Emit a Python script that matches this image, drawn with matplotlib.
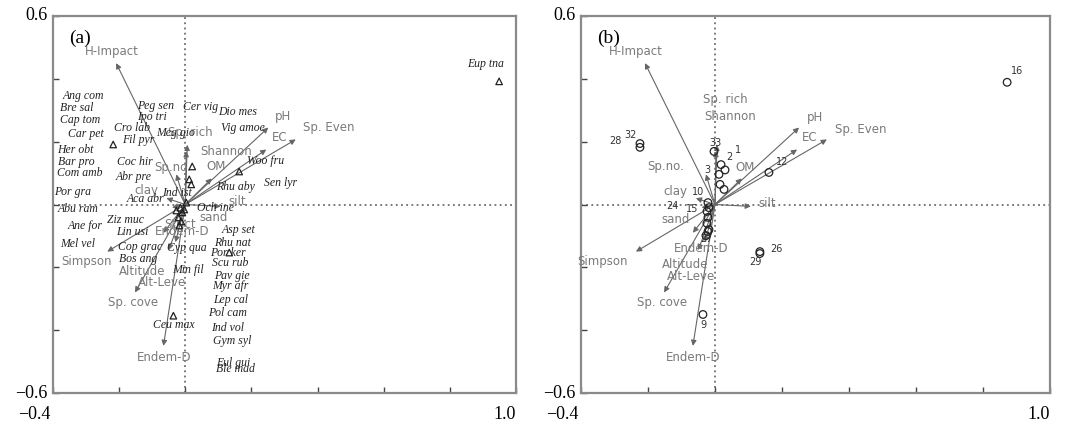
import matplotlib
matplotlib.use("Agg")
import matplotlib.pyplot as plt

# ---------------- data ----------------
env_names = ["H-Impact", "pH", "EC", "Sp. Even", "OM", "silt", "Sp.no.", "Sp. rich",
             "Shannon", "clay", "sand", "Simpson", "Endem-D", "Altitude", "Alt-Leve",
             "Sp. cove", "Endem-D"]
env_x = [-0.209, 0.251, 0.245, 0.334, 0.080, 0.107, -0.027, 0.006,
         0.003, -0.057, -0.040, -0.236, -0.066, -0.050, -0.030, -0.152, -0.066]
env_y = [0.450, 0.245, 0.175, 0.207, 0.083, -0.006, 0.096, 0.190,
         0.170, 0.020, -0.010, -0.150, -0.090, -0.145, -0.120, -0.280, -0.450]

# label positions of the variables, panel (a) and panel (b)
env_lab_a_x = [-0.221, 0.296, 0.284, 0.435, 0.094, 0.157, -0.039, 0.015,
               0.124, -0.118, 0.085, -0.299, -0.009, -0.130, -0.070, -0.157, -0.063]
env_lab_a_y = [0.487, 0.280, 0.213, 0.245, 0.121, 0.010, 0.118, 0.229,
               0.169, 0.045, -0.041, -0.182, -0.086, -0.213, -0.248, -0.312, -0.487]
env_lab_b_x = [-0.236, 0.299, 0.284, 0.436, 0.090, 0.155, -0.146, 0.030,
               0.045, -0.119, -0.119, -0.337, -0.042, -0.090, -0.072, -0.158, -0.066]
env_lab_b_y = [0.487, 0.277, 0.213, 0.239, 0.118, 0.003, 0.121, 0.334,
               0.280, 0.041, -0.048, -0.182, -0.140, -0.191, -0.229, -0.312, -0.487]

species_names = ["Ang com", "Bre sal", "Cap tom", "Car pet", "Her obt", "Bar pro", "Com amb",
                 "Por gra", "Abu ram", "Peg sen", "Ipo tri", "Cro lab", "Fil pyr", "Cer vig",
                 "Dio mes", "Vig amoe", "Meg gio", "Coc hir", "Abr pre", "Aca abr", "Woo fru",
                 "Sen lyr", "Rhu aby", "Och ine", "Ind ist", "Ziz muc", "Ane for", "Lin usi",
                 "Mel vel", "Cop grac", "Cyp qua", "Bos ang", "Min fil", "Asp set", "Rhu nat",
                 "Por ker", "Scu rub", "Pav gie", "Myr afr", "Lep cal", "Pol cam", "Ceu max",
                 "Ind vol", "Gym syl", "Eul gui", "Ble mad", "Eup tna"]
species_lab_x = [-0.308, -0.327, -0.318, -0.302, -0.333, -0.330, -0.318,
                 -0.342, -0.324, -0.091, -0.100, -0.160, -0.142, 0.045,
                 0.157, 0.175, -0.030, -0.151, -0.157, -0.121, 0.242,
                 0.287, 0.151, 0.091, -0.024, -0.181, -0.302, -0.160,
                 -0.324, -0.136, 0.006, -0.142, 0.009, 0.160, 0.142,
                 0.130, 0.136, 0.142, 0.136, 0.136, 0.127, -0.036,
                 0.127, 0.142, 0.145, 0.151, 0.907]
species_lab_y = [0.344, 0.306, 0.268, 0.223, 0.172, 0.134, 0.099,
                 0.041, -0.013, 0.312, 0.277, 0.245, 0.204, 0.309,
                 0.293, 0.245, 0.229, 0.134, 0.089, 0.016, 0.140,
                 0.070, 0.057, -0.010, 0.038, -0.048, -0.070, -0.089,
                 -0.127, -0.134, -0.137, -0.175, -0.207, -0.080, -0.121,
                 -0.153, -0.185, -0.226, -0.261, -0.303, -0.344, -0.385,
                 -0.392, -0.436, -0.503, -0.525, 0.446]

species_pt_x = [0.949, -0.218, 0.021, 0.012, 0.018, 0.163, 0.133, -0.036,
                -0.015, -0.009, -0.021, -0.012, -0.003, -0.018, 0.003, -0.027]
species_pt_y = [0.392, 0.191, 0.121, 0.080, 0.064, 0.105, -0.153, -0.354,
                -0.010, -0.025, -0.041, -0.054, -0.016, -0.067, 0.006, -0.019]

site_pt_x = [0.872, -0.224, -0.224, -0.003, 0.018, 0.030, 0.012, 0.015, 0.027, 0.161,
             -0.021, -0.024, -0.018, -0.021, -0.024, -0.018, -0.027, -0.021,
             0.134, 0.134, -0.036]
site_pt_y = [0.389, 0.194, 0.182, 0.169, 0.127, 0.110, 0.096, 0.064, 0.048, 0.102,
             0.006, -0.022, -0.010, -0.041, -0.060, -0.080, -0.099, -0.086,
             -0.150, -0.156, -0.350]
site_names = ["16", "28", "32", "33", "2", "1", "3", "12", "10", "15", "24", "27",
              "26", "29", "9"]
site_lab_x = [0.901, -0.296, -0.251, 0.000, 0.042, 0.069, -0.024, 0.200, -0.051,
              -0.069, -0.128, -0.024, 0.182, 0.122, -0.036]
site_lab_y = [0.424, 0.201, 0.220, 0.197, 0.150, 0.175, 0.111, 0.134, 0.041,
              -0.013, -0.006, -0.111, -0.143, -0.182, -0.385]

xlim = (-0.4, 1.0)
ylim = (-0.6, 0.6)

# ---------------- drawing ----------------
W, H = 1066, 426
fig = plt.figure(figsize=(W / 100, H / 100), dpi=100)

serif = "Liberation Serif"
env_color = "#7a7a7a"
arrow_color = "#666666"
spine_color = "#8a8a8a"


def setup(ax, tag):
    ax.set_xlim(*xlim)
    ax.set_ylim(*ylim)
    ax.axvline(0, color="#555555", ls=(0, (1.2, 2.2)), lw=1.1, zorder=1)
    ax.axhline(0, color="#555555", ls=(0, (1.2, 2.2)), lw=1.1, zorder=1)
    ax.set_xticks([-0.4, -0.2, 0.0, 0.2, 0.4, 0.6, 0.8, 1.0])
    ax.set_yticks([-0.6, -0.4, -0.2, 0.0, 0.2, 0.4, 0.6])
    ax.set_xticklabels([])
    ax.set_yticklabels([])
    ax.tick_params(direction="in", length=4, width=1, color="#444444",
                   top=False, right=False)
    for s in ax.spines.values():
        s.set_color(spine_color)
        s.set_linewidth(1.6)
    ax.text(0.035, 0.965, tag, transform=ax.transAxes, ha="left", va="top",
            family=serif, fontsize=14)
    # edge tick labels
    ax.text(-0.012, 1.0, "0.6", transform=ax.transAxes, ha="right", va="center",
            family=serif, fontsize=13)
    ax.text(-0.012, 0.0, "\u22120.6", transform=ax.transAxes, ha="right", va="center",
            family=serif, fontsize=13)
    ax.text(-0.04, -0.035, "\u22120.4", transform=ax.transAxes, ha="center", va="top",
            family=serif, fontsize=13)
    ax.text(1.0, -0.035, "1.0", transform=ax.transAxes, ha="right", va="top",
            family=serif, fontsize=13)
    # arrows
    for ex, ey in zip(env_x, env_y):
        ax.annotate("", xy=(ex, ey), xytext=(0, 0),
                    arrowprops=dict(arrowstyle="-|>", color=arrow_color, lw=0.8,
                                    mutation_scale=8, shrinkA=0, shrinkB=0),
                    zorder=3)


ax_a = fig.add_axes([53 / W, 33 / H, 463 / W, 377 / H])
setup(ax_a, "(a)")
for name, lx, ly in zip(env_names, env_lab_a_x, env_lab_a_y):
    ax_a.text(lx, ly, name, ha="center", va="center", fontsize=8.5, color=env_color,
              family="DejaVu Sans", zorder=4)
ax_a.text(-0.015, -0.064, "Strict", ha="center", va="center", fontsize=8.5,
          color=env_color, family="DejaVu Sans", zorder=4)
for name, lx, ly in zip(species_names, species_lab_x, species_lab_y):
    ax_a.text(lx, ly, name, ha="center", va="center", fontsize=8.5, color="#222222",
              family=serif, style="italic", zorder=5)
ax_a.scatter(species_pt_x, species_pt_y, marker="^", s=22, facecolors="none",
             edgecolors="#222222", linewidths=0.9, zorder=4)

ax_b = fig.add_axes([581 / W, 33 / H, 469 / W, 377 / H])
setup(ax_b, "(b)")
for name, lx, ly in zip(env_names, env_lab_b_x, env_lab_b_y):
    ax_b.text(lx, ly, name, ha="center", va="center", fontsize=8.5, color=env_color,
              family="DejaVu Sans", zorder=4)
ax_b.scatter(site_pt_x, site_pt_y, marker="o", s=30, facecolors="none",
             edgecolors="#222222", linewidths=0.9, zorder=4)
for name, lx, ly in zip(site_names, site_lab_x, site_lab_y):
    ax_b.text(lx, ly, name, ha="center", va="center", fontsize=7, color="#333333",
              family="DejaVu Sans", zorder=5)

fig.savefig("out.png", dpi=100)
